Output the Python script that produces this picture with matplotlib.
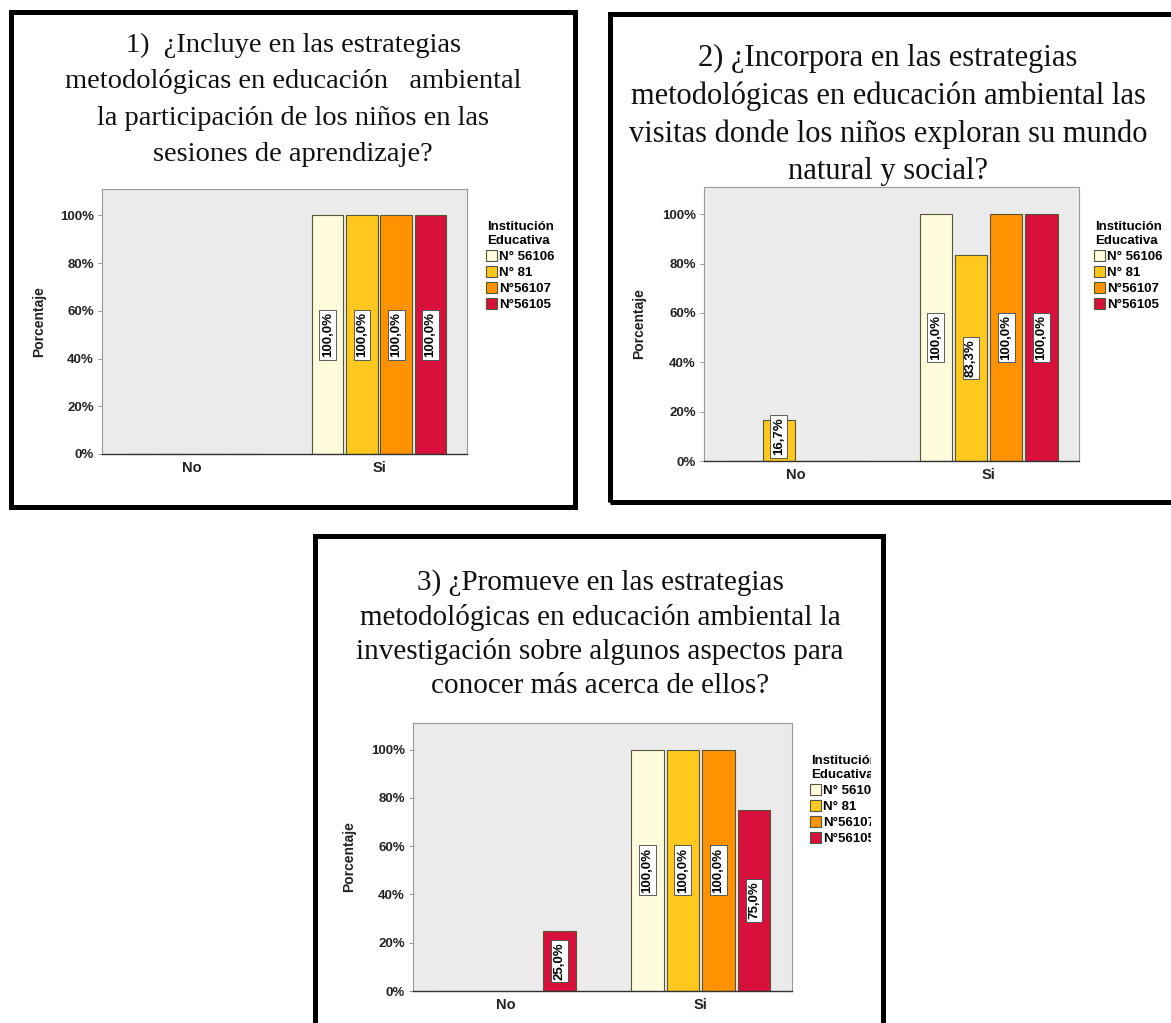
import matplotlib

matplotlib.use("Agg")

import matplotlib.pyplot as plt
import numpy as np
from matplotlib.patches import Rectangle
from matplotlib.transforms import Bbox

W, H = 1171, 1023

categories = ["No", "Si"]
institutions = ["N° 56106", "N° 81", "N°56107", "N°56105"]
bar_colors = ["#FFFCDC", "#FFC81E", "#FF9200", "#D8103C"]

# percentage per institution, [No, Si]
q1_values = [[0.0, 100.0], [0.0, 100.0], [0.0, 100.0], [0.0, 100.0]]
q2_values = [[0.0, 100.0], [16.7, 83.3], [0.0, 100.0], [0.0, 100.0]]
q3_values = [[0.0, 100.0], [0.0, 100.0], [0.0, 100.0], [25.0, 75.0]]

y_ticks = [0, 20, 40, 60, 80, 100]
y_tick_labels = ["0%", "20%", "40%", "60%", "80%", "100%"]

titles = [
    "1)  ¿Incluye en las estrategias\nmetodológicas en educación   ambiental\n"
    "la participación de los niños en las\nsesiones de aprendizaje?",
    "2) ¿Incorpora en las estrategias\nmetodológicas en educación ambiental las\n"
    "visitas donde los niños exploran su mundo\nnatural y social?",
    "3) ¿Promueve en las estrategias\nmetodológicas en educación ambiental la\n"
    "investigación sobre algunos aspectos para\nconocer más acerca de ellos?",
]

SANS = "Liberation Sans"
SERIF = "Liberation Serif"

# pixel layout of each panel (x0, y0, x1, y1 measured from top-left)
panels = [
    dict(values=q1_values, title=titles[0], border=(11, 12, 575, 507),
         title_xy=(293, 100), title_size=20.5, title_ls=1.6,
         axes=(102, 189, 467, 454), legend_xy=(477, 212), clip_x=None,
         ylabel_x=-0.153),
    dict(values=q2_values, title=titles[1], border=(610, 14, 1190, 502),
         title_xy=(888, 115), title_size=22, title_ls=1.36,
         axes=(704, 187, 1079, 461), legend_xy=(1085, 212), clip_x=None,
         ylabel_x=-0.155),
    dict(values=q3_values, title=titles[2], border=(315, 536, 883, 1030),
         title_xy=(600, 634), title_size=21, title_ls=1.36,
         axes=(413, 723, 792, 991), legend_xy=(801, 746), clip_x=871,
         ylabel_x=-0.15),
]


def fig_rect(x0, y0, x1, y1):
    return [x0 / W, 1 - y1 / H, (x1 - x0) / W, (y1 - y0) / H]


def draw_panel(fig, spec):
    bx0, by0, bx1, by1 = spec["border"]
    fig.add_artist(Rectangle((bx0 / W, 1 - by1 / H), (bx1 - bx0) / W, (by1 - by0) / H,
                             transform=fig.transFigure, fill=False,
                             edgecolor="black", linewidth=3.6, zorder=5))
    tx, ty = spec["title_xy"]
    fig.text(tx / W, 1 - ty / H, spec["title"], ha="center", va="center",
             family=SERIF, fontsize=spec["title_size"],
             linespacing=spec["title_ls"], color="#111111")

    ax = fig.add_axes(fig_rect(*spec["axes"]))
    ax.set_facecolor("#EBEBEB")
    x = np.arange(len(categories))
    width = 0.168
    pitch = 0.183
    n = len(institutions)
    bars = []
    for i, (name, vals) in enumerate(zip(institutions, spec["values"])):
        offset = (i - (n - 1) / 2) * pitch
        b = ax.bar(x + offset, vals, width, color=bar_colors[i],
                   edgecolor="#55553a", linewidth=0.8, label=name, zorder=2)
        bars.append(b)
        for xi, v in zip(x + offset, vals):
            if v <= 0:
                continue
            ax.text(xi, max(v / 2, 10), f"{v:.1f}%".replace(".", ","),
                    rotation=90, ha="center", va="center", family=SANS,
                    fontsize=9.5, fontweight="bold", zorder=4,
                    bbox=dict(boxstyle="square,pad=0.18", fc="white",
                              ec="#444444", lw=0.6))
    ax.set_xlim(-0.48, 1.47)
    ax.set_ylim(0, 111)
    ax.set_yticks(y_ticks)
    ax.set_yticklabels(y_tick_labels, family=SANS, fontsize=9.5,
                       fontweight="bold", color="#222222")
    ax.set_xticks(x)
    ax.set_xticklabels(categories, family=SANS, fontsize=10.5,
                       fontweight="bold", color="#222222")
    ax.tick_params(axis="y", length=3, width=0.6, color="#888888", pad=3)
    ax.tick_params(axis="x", length=0, pad=5)
    for side in ("left", "top", "right"):
        ax.spines[side].set_color("#9a9a9a")
        ax.spines[side].set_linewidth(0.8)
    ax.spines["bottom"].set_color("#333333")
    ax.spines["bottom"].set_linewidth(1.0)
    ax.set_ylabel("Porcentaje", family=SANS, fontsize=10, fontweight="bold",
                  color="#222222")
    ax.yaxis.set_label_coords(spec["ylabel_x"], 0.5)

    lx, ly = spec["legend_xy"]
    leg = fig.legend(handles=bars, labels=institutions, loc="upper left",
                     bbox_to_anchor=(lx / W, 1 - ly / H), frameon=False,
                     title="Institución\nEducativa",
                     prop=dict(family=SANS, size=9.5, weight="bold"),
                     title_fontproperties=dict(family=SANS, size=9.5,
                                               weight="bold"),
                     handlelength=0.85, handleheight=0.9, handletextpad=0.15,
                     labelspacing=0.22, borderpad=0.2)
    if spec["clip_x"] is not None:
        clip = Bbox([[0, 0], [spec["clip_x"], H]])
        for t in leg.get_texts() + [leg.get_title()]:
            t.set_clip_box(clip)
            t.set_clip_on(True)
    return ax


fig = plt.figure(figsize=(W / 100, H / 100), dpi=100)
fig.patch.set_facecolor("white")
for spec in panels:
    draw_panel(fig, spec)

fig.savefig("out.png", dpi=100, facecolor="white")
